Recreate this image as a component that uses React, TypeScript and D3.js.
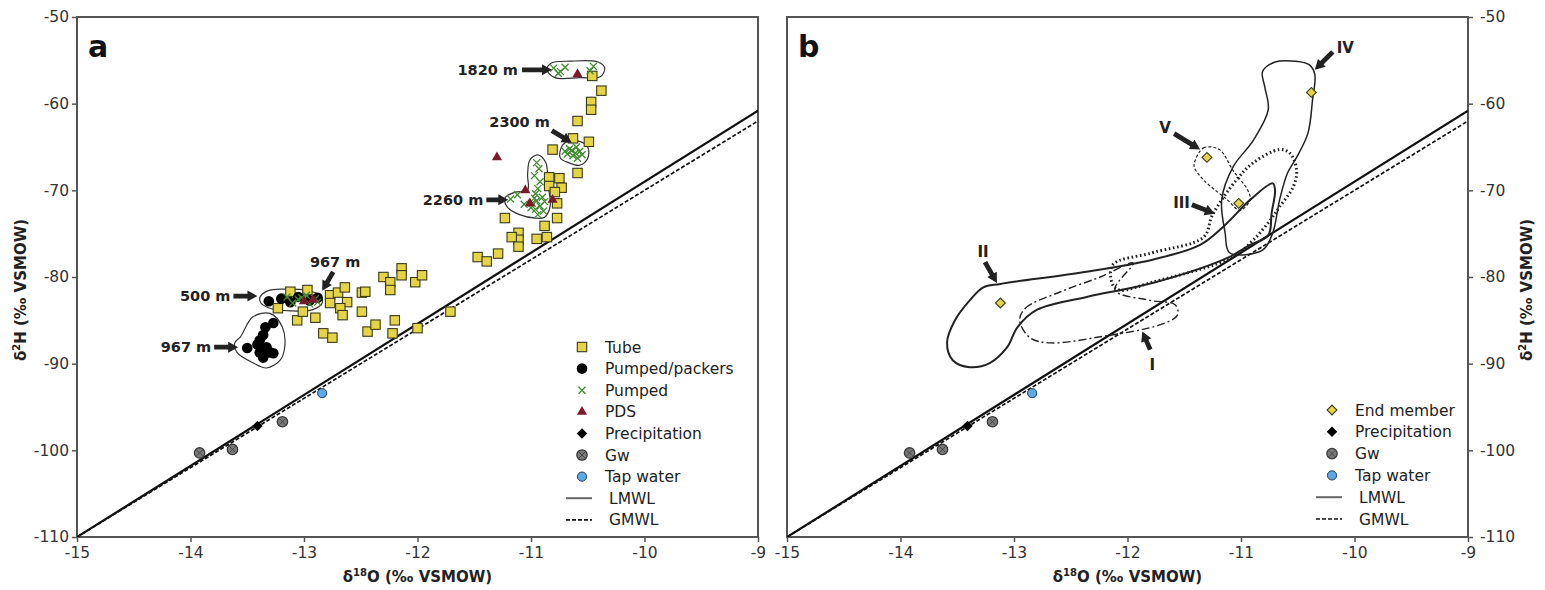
import React, { useEffect, useRef } from 'react';
import * as d3 from 'd3';

type P = [number, number];

const xTicks = [-15, -14, -13, -12, -11, -10, -9];
const yTicks = [-50, -60, -70, -80, -90, -100, -110];

// δ18O, δ2H samples (panel a)
const tube: P[] = [
  [-13.12, -81.7], [-12.97, -81.5], [-12.77, -82.1], [-12.70, -81.8], [-12.64, -81.2],
  [-12.62, -82.9], [-12.77, -83.0], [-12.68, -83.6], [-12.66, -84.4], [-12.49, -81.8],
  [-12.46, -81.7], [-12.49, -84.0], [-12.30, -80.0], [-12.24, -80.6], [-12.24, -81.5],
  [-12.14, -79.0], [-12.14, -79.8], [-12.02, -80.6], [-11.96, -79.8], [-13.06, -85.0],
  [-12.90, -84.7], [-12.83, -86.5], [-12.75, -87.0], [-12.44, -86.3], [-12.37, -85.5],
  [-12.20, -85.0], [-12.22, -86.5], [-12.00, -85.9], [-11.71, -84.0], [-13.23, -83.6],
  [-13.01, -84.0],
  [-10.46, -56.8], [-10.38, -58.5], [-10.47, -59.8], [-10.47, -60.7], [-10.59, -62.0],
  [-10.63, -64.0], [-10.49, -64.4], [-10.81, -65.3], [-10.59, -68.0], [-10.84, -68.5],
  [-10.75, -68.6], [-10.84, -69.5], [-10.73, -69.7], [-10.79, -70.2], [-10.77, -71.5],
  [-10.77, -73.2], [-11.23, -73.2], [-10.88, -74.1], [-11.11, -74.9], [-11.11, -75.7],
  [-11.17, -75.4], [-10.95, -75.6], [-10.86, -75.4], [-11.11, -76.5], [-11.47, -77.7],
  [-11.39, -78.2], [-11.29, -77.3],
];

const pumpedPackers: P[] = [
  [-13.31, -82.8], [-13.20, -82.5], [-13.12, -82.9], [-13.05, -82.3], [-12.95, -82.7], [-12.88, -82.4],
  [-13.27, -85.3], [-13.34, -85.8], [-13.36, -86.7], [-13.39, -87.3], [-13.41, -87.8], [-13.33, -88.1],
  [-13.30, -88.7], [-13.39, -88.7], [-13.36, -89.3], [-13.27, -88.8], [-13.50, -88.2],
];

const pumped: P[] = [
  [-10.80, -55.9], [-10.74, -56.3], [-10.70, -55.8], [-10.76, -56.5], [-10.48, -56.2], [-10.45, -55.7],
  [-10.66, -65.2], [-10.60, -65.0], [-10.57, -65.5], [-10.63, -66.0], [-10.68, -65.8], [-10.59, -66.3],
  [-10.55, -65.9], [-10.64, -65.4], [-10.61, -65.7], [-10.70, -65.5],
  [-10.95, -66.8], [-10.93, -67.5], [-10.97, -68.3], [-10.92, -69.0], [-10.94, -69.8], [-10.96, -70.4],
  [-10.90, -70.8], [-10.95, -71.2], [-10.99, -71.5], [-10.92, -71.8], [-10.96, -72.2], [-10.89, -72.4],
  [-10.94, -72.8], [-11.00, -72.0], [-10.88, -71.3], [-10.97, -70.9], [-11.18, -71.0], [-11.12, -70.5],
  [-11.06, -71.6],
  [-13.15, -82.3], [-13.05, -82.6], [-12.98, -82.1], [-12.90, -82.5], [-13.10, -83.0], [-12.95, -83.1],
  [-13.02, -82.4], [-12.88, -82.9],
];

const pds: P[] = [
  [-11.30, -66.2], [-10.59, -56.6], [-11.05, -70.0], [-11.01, -71.5], [-10.81, -71.1],
  [-13.00, -82.8], [-12.92, -82.6],
];

const precipitation: P[] = [[-13.41, -97.2]];
const gw: P[] = [[-13.92, -100.3], [-13.63, -99.9], [-13.19, -96.7]];
const tapWater: P[] = [[-12.84, -93.4]];
const endMember: P[] = [[-13.12, -83.0], [-11.30, -66.2], [-11.02, -71.5], [-10.38, -58.7]];

// meteoric water lines
const lmwl = { slope: 8.2, intercept: 13 };
const gmwl = { slope: 8, intercept: 10 };

// sampling-depth outlines (panel a)
const outline1820: P[] = [[-10.86, -56.1], [-10.82, -55.3], [-10.66, -55.1], [-10.41, -55.2], [-10.35, -55.9], [-10.39, -56.9], [-10.57, -57.0], [-10.79, -57.0]];
const outline2300: P[] = [[-10.74, -65.3], [-10.70, -64.5], [-10.59, -64.3], [-10.50, -65.0], [-10.50, -66.3], [-10.57, -67.1], [-10.67, -66.8], [-10.74, -66.3]];
const outline2260: P[] = [[-11.01, -66.5], [-10.94, -65.9], [-10.87, -66.8], [-10.85, -69.4], [-10.83, -71.7], [-10.88, -73.1], [-10.96, -73.2], [-11.10, -72.8], [-11.21, -71.9], [-11.23, -70.9], [-11.14, -70.2], [-11.03, -70.0], [-11.03, -68.2]];
const outline500: P[] = [[-13.39, -82.4], [-13.32, -81.6], [-13.17, -81.4], [-12.99, -81.5], [-12.86, -82.1], [-12.84, -83.0], [-12.93, -83.8], [-13.12, -83.9], [-13.30, -83.6], [-13.38, -83.0]];
const outline967: P[] = [[-13.56, -86.9], [-13.45, -84.6], [-13.30, -84.2], [-13.19, -85.8], [-13.17, -88.1], [-13.21, -89.6], [-13.33, -90.5], [-13.45, -89.9], [-13.59, -88.7], [-13.61, -87.6]];

// end-member envelopes (panel b)
const envI: P[] = [[-12.95, -85.0], [-12.90, -83.6], [-12.59, -81.7], [-12.24, -80.0], [-11.95, -78.4], [-12.11, -81.5], [-11.80, -82.7], [-11.58, -83.2], [-11.56, -84.4], [-11.71, -85.5], [-12.24, -86.9], [-12.68, -87.6], [-12.86, -87.0]];
const envII: P[] = [[-13.54, -89.6], [-13.39, -90.4], [-13.21, -89.9], [-13.06, -88.1], [-12.97, -85.8], [-12.80, -83.8], [-12.36, -82.3], [-11.78, -80.7], [-11.12, -77.8], [-10.92, -76.3], [-10.76, -75.2], [-10.73, -72.6], [-10.70, -70.0], [-10.72, -69.2], [-10.92, -71.1], [-11.14, -74.0], [-11.36, -76.3], [-11.78, -78.0], [-12.36, -79.4], [-13.12, -80.8], [-13.27, -81.2], [-13.39, -82.7], [-13.52, -85.0], [-13.59, -87.6]];
const envIII: P[] = [[-12.13, -78.6], [-11.78, -77.2], [-11.33, -75.4], [-11.25, -72.8], [-11.04, -68.8], [-10.89, -66.8], [-10.66, -65.3], [-10.57, -65.7], [-10.51, -67.7], [-10.54, -69.6], [-10.66, -71.9], [-10.74, -73.4], [-10.89, -75.7], [-11.07, -77.7], [-11.78, -80.6], [-12.07, -81.5], [-12.13, -80.9]];
const envIV: P[] = [[-10.81, -56.3], [-10.70, -55.2], [-10.52, -55.1], [-10.40, -55.5], [-10.35, -56.6], [-10.37, -59.6], [-10.41, -63.4], [-10.51, -66.2], [-10.59, -68.0], [-10.66, -71.1], [-10.72, -74.9], [-10.81, -76.9], [-11.10, -77.2], [-11.14, -74.9], [-11.17, -71.1], [-11.07, -67.3], [-10.89, -64.2], [-10.76, -60.7], [-10.79, -58.1]];
const envV: P[] = [[-11.41, -66.8], [-11.33, -65.1], [-11.19, -65.3], [-11.07, -67.7], [-10.94, -70.0], [-10.92, -71.1], [-11.01, -72.3], [-11.12, -71.1], [-11.33, -68.8], [-11.41, -67.4]];

const legendA = ['Tube', 'Pumped/packers', 'Pumped', 'PDS', 'Precipitation', 'Gw', 'Tap water', 'LMWL', 'GMWL'];
const legendB = ['End member', 'Precipitation', 'Gw', 'Tap water', 'LMWL', 'GMWL'];

const labelsA = [
  { text: '1820 m', tip: [-10.815, -56.1], tail: [-30, 0], pos: [-34, 0], anchor: 'end' },
  { text: '2300 m', tip: [-10.64, -64.5], tail: [-20, -12], pos: [-22, -21], anchor: 'end' },
  { text: '2260 m', tip: [-11.20, -71.1], tail: [-22, 0], pos: [-25, 0], anchor: 'end' },
  { text: '500 m', tip: [-13.41, -82.2], tail: [-24, 0], pos: [-27, 0], anchor: 'end' },
  { text: '967 m', tip: [-12.84, -81.6], tail: [11, -19], pos: [13, -29], anchor: 'middle' },
  { text: '967 m', tip: [-13.58, -88.1], tail: [-24, 0], pos: [-27, 0], anchor: 'end' },
];
const labelsB = [
  { text: 'IV', tip: [-10.35, -56.1], tail: [18, -18], pos: [22, -22], anchor: 'start' },
  { text: 'V', tip: [-11.36, -65.3], tail: [-26, -16], pos: [-35, -22], anchor: 'middle' },
  { text: 'III', tip: [-11.23, -72.7], tail: [-23, -9], pos: [-25, -11], anchor: 'end' },
  { text: 'II', tip: [-13.15, -80.7], tail: [-12, -21], pos: [-14, -31], anchor: 'middle' },
  { text: 'I', tip: [-11.87, -86.3], tail: [8, 18], pos: [10, 33], anchor: 'middle' },
];

const FONT = "'DejaVu Sans', Verdana, sans-serif";

const App = () => {
  const svgRef = useRef<SVGSVGElement>(null);

  useEffect(() => {
    if (!svgRef.current) return;
    const svg = d3.select(svgRef.current);
    svg.selectAll('*').remove();

    const top = 17, bottom = 537;
    const panels = [
      { id: 'a', left: 77, right: 758, side: 'left' },
      { id: 'b', left: 787, right: 1468, side: 'right' },
    ];

    // marker drawing helper
    const drawMarker = (g: any, kind: string, cx: number, cy: number) => {
      const t = `translate(${cx},${cy})`;
      if (kind === 'Tube') {
        g.append('rect').attr('x', cx - 4.7).attr('y', cy - 4.7).attr('width', 9.4).attr('height', 9.4)
          .attr('fill', '#e6d447').attr('stroke', '#3a3a1a').attr('stroke-width', 1.1);
      } else if (kind === 'Pumped/packers') {
        g.append('circle').attr('cx', cx).attr('cy', cy).attr('r', 5.3).attr('fill', '#000');
      } else if (kind === 'Pumped') {
        g.append('path').attr('transform', t).attr('d', 'M-3.5,-3.5L3.5,3.5M-3.5,3.5L3.5,-3.5')
          .attr('stroke', '#3f8a2e').attr('stroke-width', 1.3).attr('fill', 'none');
      } else if (kind === 'PDS') {
        g.append('path').attr('transform', t).attr('d', d3.symbol().type(d3.symbolTriangle).size(45)())
          .attr('fill', '#7a1a2a');
      } else if (kind === 'Precipitation') {
        g.append('path').attr('transform', `${t} rotate(45)`).attr('d', d3.symbol().type(d3.symbolSquare).size(55)())
          .attr('fill', '#000');
      } else if (kind === 'Gw') {
        g.append('circle').attr('cx', cx).attr('cy', cy).attr('r', 5.2).attr('fill', '#7a7a7a')
          .attr('stroke', '#3a3a3a').attr('stroke-width', 1.3);
        g.append('path').attr('transform', t).attr('d', 'M-3,-3L3,3M-3,3L3,-3')
          .attr('stroke', '#444').attr('stroke-width', 1);
      } else if (kind === 'Tap water') {
        g.append('circle').attr('cx', cx).attr('cy', cy).attr('r', 4.6).attr('fill', '#5aaae6')
          .attr('stroke', '#2a3a55').attr('stroke-width', 1);
      } else if (kind === 'End member') {
        g.append('path').attr('transform', `${t} rotate(45)`).attr('d', d3.symbol().type(d3.symbolSquare).size(48)())
          .attr('fill', '#e6d447').attr('stroke', '#3a3a1a').attr('stroke-width', 1.1);
      }
    };

    const drawArrow = (g: any, x1: number, y1: number, x2: number, y2: number) => {
      const a = Math.atan2(y2 - y1, x2 - x1);
      const len = Math.hypot(x2 - x1, y2 - y1);
      const head = Math.min(10, len * 0.5);
      const pts = [[0, -2.4], [len - head, -2.4], [len - head, -5.5], [len, 0], [len - head, 5.5], [len - head, 2.4], [0, 2.4]];
      g.append('path')
        .attr('transform', `translate(${x1},${y1}) rotate(${(a * 180) / Math.PI})`)
        .attr('d', 'M' + pts.map(p => p.join(',')).join('L') + 'Z')
        .attr('fill', '#222');
    };

    panels.forEach(p => {
      const x = d3.scaleLinear().domain([-15, -9]).range([p.left, p.right]);
      const y = d3.scaleLinear().domain([-110, -50]).range([bottom, top]);
      const g = svg.append('g');

      const clipId = `clip-${p.id}`;
      svg.append('defs').append('clipPath').attr('id', clipId)
        .append('rect').attr('x', p.left).attr('y', top).attr('width', p.right - p.left).attr('height', bottom - top);

      // axes
      const xAxis = g.append('g').attr('transform', `translate(0,${bottom})`)
        .call(d3.axisBottom(x).tickValues(xTicks).tickSize(5).tickPadding(5).tickFormat(d => String(d)));
      const yAxis = p.side === 'left'
        ? g.append('g').attr('transform', `translate(${p.left},0)`)
          .call(d3.axisLeft(y).tickValues(yTicks).tickSize(5).tickPadding(3).tickFormat(d => String(d)))
        : g.append('g').attr('transform', `translate(${p.right},0)`)
          .call(d3.axisRight(y).tickValues(yTicks).tickSize(5).tickPadding(7).tickFormat(d => String(d)));
      [xAxis, yAxis].forEach(ax => {
        ax.select('.domain').remove();
        ax.selectAll('line').attr('stroke', '#555').attr('stroke-width', 1.5);
        ax.selectAll('text').attr('fill', '#333').style('font-size', '15.5px').style('font-family', FONT);
      });

      // frame
      g.append('rect').attr('x', p.left).attr('y', top).attr('width', p.right - p.left).attr('height', bottom - top)
        .attr('fill', 'none').attr('stroke', '#555').attr('stroke-width', 2);

      // panel letter
      g.append('text').attr('x', p.left + 11).attr('y', top + 40).text(p.id)
        .style('font-family', FONT).style('font-weight', 'bold').style('font-size', '30px').attr('fill', '#111');

      // axis titles
      const xt = g.append('text').attr('x', (p.left + p.right) / 2).attr('y', 582).attr('text-anchor', 'middle')
        .style('font-family', FONT).style('font-weight', 'bold').style('font-size', '15px').attr('fill', '#222');
      xt.append('tspan').text('δ');
      xt.append('tspan').text('18').attr('dy', -6).style('font-size', '10px');
      xt.append('tspan').text('O (‰ VSMOW)').attr('dy', 6);

      const ytx = p.side === 'left' ? 26 : 1532;
      const yt = g.append('text').attr('transform', `translate(${ytx},290) rotate(-90)`).attr('text-anchor', 'middle')
        .style('font-family', FONT).style('font-weight', 'bold').style('font-size', '15px').attr('fill', '#222');
      yt.append('tspan').text('δ');
      yt.append('tspan').text('2').attr('dy', -6).style('font-size', '10px');
      yt.append('tspan').text('H (‰ VSMOW)').attr('dy', 6);

      const plot = g.append('g').attr('clip-path', `url(#${clipId})`);

      // water lines
      const mwl = (m: { slope: number; intercept: number }) =>
        d3.line<number>().x(d => x(d)).y(d => y(m.slope * d + m.intercept))([-15, -9]);
      plot.append('path').attr('d', mwl(lmwl)).attr('stroke', '#111').attr('stroke-width', 2.2).attr('fill', 'none');
      plot.append('path').attr('d', mwl(gmwl)).attr('stroke', '#111').attr('stroke-width', 1.7)
        .attr('stroke-dasharray', '4,2').attr('fill', 'none');

      const closed = d3.line<P>().x(d => x(d[0])).y(d => y(d[1])).curve(d3.curveCatmullRomClosed.alpha(0.5));

      const points = (kind: string, arr: P[]) => arr.forEach(d => drawMarker(plot, kind, x(d[0]), y(d[1])));

      const labelLayer = g.append('g');
      const drawLabels = (labels: typeof labelsA, size: number) => {
        labels.forEach(l => {
          const tx = x(l.tip[0]), ty = y(l.tip[1]);
          drawArrow(labelLayer, tx + l.tail[0], ty + l.tail[1], tx, ty);
          labelLayer.append('text').attr('x', tx + l.pos[0]).attr('y', ty + l.pos[1]).attr('dy', '0.36em')
            .attr('text-anchor', l.anchor).text(l.text)
            .style('font-family', FONT).style('font-weight', 'bold').style('font-size', `${size}px`).attr('fill', '#222');
        });
      };

      let legend: string[];
      let lx: number, ly: number, lstep: number;
      if (p.id === 'a') {
        [outline1820, outline2300, outline2260, outline500, outline967].forEach(o =>
          plot.append('path').attr('d', closed(o)).attr('fill', 'none').attr('stroke', '#333').attr('stroke-width', 1.2));
        points('Tube', tube);
        points('Pumped/packers', pumpedPackers);
        points('Pumped', pumped);
        points('PDS', pds);
        points('Precipitation', precipitation);
        points('Gw', gw);
        points('Tap water', tapWater);
        drawLabels(labelsA, 14.5);
        legend = legendA; lx = 582; ly = 347; lstep = 21.6;
      } else {
        plot.append('path').attr('d', closed(envI)).attr('fill', 'none').attr('stroke', '#222')
          .attr('stroke-width', 1.4).attr('stroke-dasharray', '8,3,2,3');
        plot.append('path').attr('d', closed(envII)).attr('fill', 'none').attr('stroke', '#222').attr('stroke-width', 2);
        plot.append('path').attr('d', closed(envIII)).attr('fill', 'none').attr('stroke', '#222')
          .attr('stroke-width', 3).attr('stroke-dasharray', '1.6,2.6');
        plot.append('path').attr('d', closed(envIV)).attr('fill', 'none').attr('stroke', '#222').attr('stroke-width', 1.5);
        plot.append('path').attr('d', closed(envV)).attr('fill', 'none').attr('stroke', '#222')
          .attr('stroke-width', 1.2).attr('stroke-dasharray', '3,2');
        points('End member', endMember);
        points('Precipitation', precipitation);
        points('Gw', gw);
        points('Tap water', tapWater);
        drawLabels(labelsB, 15);
        legend = legendB; lx = 1332; ly = 410; lstep = 21.8;
      }

      // legend
      const lg = g.append('g');
      legend.forEach((name, i) => {
        const cy = ly + i * lstep;
        if (name === 'LMWL' || name === 'GMWL') {
          lg.append('line').attr('x1', lx - 16).attr('x2', lx + 10).attr('y1', cy).attr('y2', cy)
            .attr('stroke', name === 'LMWL' ? '#666' : '#111').attr('stroke-width', name === 'LMWL' ? 2 : 1.7)
            .attr('stroke-dasharray', name === 'GMWL' ? '4,2' : null);
        } else {
          drawMarker(lg, name, lx, cy);
        }
        const textX = name === 'LMWL' || name === 'GMWL' ? lx + 27 : lx + 23;
        lg.append('text').attr('x', textX).attr('y', cy).attr('dy', '0.36em').text(name)
          .style('font-family', FONT).style('font-size', '15.5px').attr('fill', '#222');
      });
    });
  }, []);

  return (
    <div style={{ position: 'absolute', left: 0, top: 0, width: 1545, height: 590, background: '#fff' }}>
      <svg ref={svgRef} width={1545} height={590} style={{ display: 'block' }} />
    </div>
  );
};

export default App;
